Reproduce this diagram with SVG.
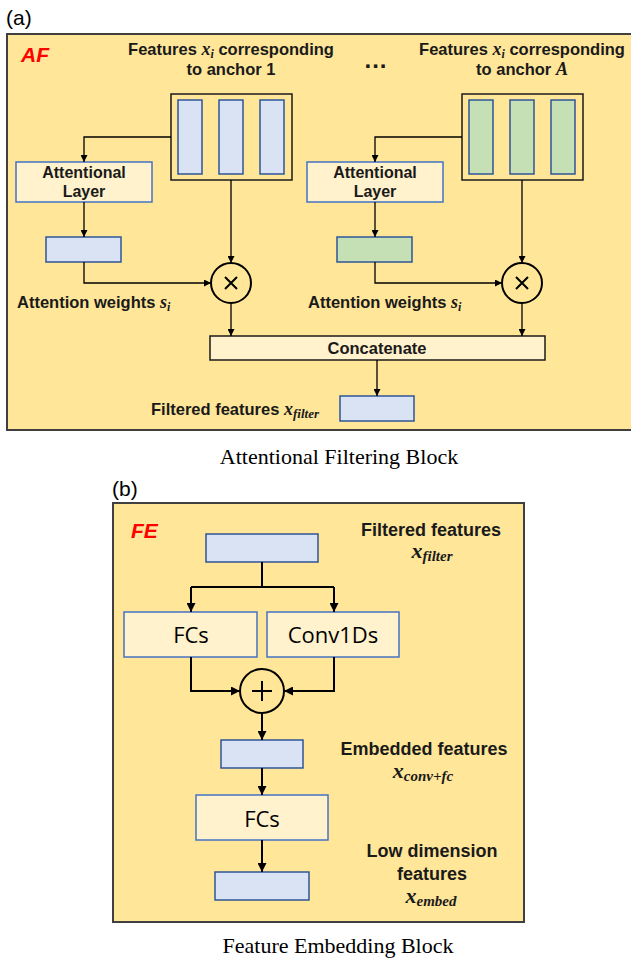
<svg xmlns="http://www.w3.org/2000/svg" width="631" height="959" viewBox="0 0 631 959">
<style>
.panel{fill:#ffe699;stroke:#404040;stroke-width:2}
.blue{fill:#dae3f3;stroke:#2f5597;stroke-width:1.5}
.green{fill:#c5e0b4;stroke:#2f5597;stroke-width:1.5}
.cream{fill:#fff2cc;stroke:#4472c4;stroke-width:1.5}
.frame{fill:none;stroke:#1a1a1a;stroke-width:1.5}
.lbl{font-family:"Liberation Sans",Arial,sans-serif;font-weight:bold;fill:#1a1a1a}
.math{font-family:"Liberation Serif","Times New Roman",serif;font-style:italic}
.red{font-family:"Liberation Sans",Arial,sans-serif;font-weight:bold;font-style:italic;fill:#ff0000}
.cap{font-family:"Liberation Serif","Times New Roman",serif;font-size:22px;fill:#000}
.tag{font-family:"Liberation Sans",Arial,sans-serif;font-size:21px;fill:#000}
.ca{fill:none;stroke:#000;stroke-width:1.3}
.cb{fill:none;stroke:#000;stroke-width:2}
.op{fill:none;stroke:#000;stroke-width:2}
.calib{font-family:"Open Sans","Liberation Sans",sans-serif;font-size:22px;fill:#000}
</style>
<defs>
<marker id="ah" viewBox="0 0 10 10" refX="10" refY="5" markerWidth="7" markerHeight="7" markerUnits="userSpaceOnUse" orient="auto"><path d="M0,0 L10,5 L0,10 z" fill="#000"/></marker>
<marker id="ahb" viewBox="0 0 10 10" refX="10" refY="5" markerWidth="9" markerHeight="9" markerUnits="userSpaceOnUse" orient="auto"><path d="M0,0 L10,5 L0,10 z" fill="#000"/></marker>
</defs>

<!-- Panel (a) -->
<text class="tag" x="6" y="25">(a)</text>
<rect class="panel" x="7" y="34" width="640" height="396"/>
<text class="red" x="21" y="62" font-size="21">AF</text>

<g id="title1">
<text class="lbl" x="231" y="55" font-size="16.5" text-anchor="middle">Features <tspan class="math" font-size="18">x</tspan><tspan class="math" font-size="12" dy="3">i</tspan><tspan dy="-3"> corresponding</tspan></text>
<text class="lbl" x="231" y="75" font-size="16.5" text-anchor="middle">to anchor 1</text>
</g>
<text class="lbl" x="376" y="68" font-size="24" letter-spacing="1" text-anchor="middle">...</text>
<g id="titleA">
<text class="lbl" x="522" y="55" font-size="16.5" text-anchor="middle">Features <tspan class="math" font-size="18">x</tspan><tspan class="math" font-size="12" dy="3">i</tspan><tspan dy="-3"> corresponding</tspan></text>
<text class="lbl" x="522" y="75" font-size="16.5" text-anchor="middle">to anchor <tspan class="math" font-size="18">A</tspan></text>
</g>

<g id="feat1">
<rect class="frame" x="171" y="94" width="121" height="86"/>
<rect class="blue" x="178" y="100" width="24" height="74"/>
<rect class="blue" x="219" y="100" width="24" height="74"/>
<rect class="blue" x="260" y="100" width="24" height="74"/>
</g>
<g id="featA">
<rect class="frame" x="462" y="94" width="121" height="86"/>
<rect class="green" x="469" y="100" width="24" height="74"/>
<rect class="green" x="510" y="100" width="24" height="74"/>
<rect class="green" x="551" y="100" width="24" height="74"/>
</g>

<g id="att1">
<rect class="cream" x="16" y="162" width="136" height="40"/>
<text class="lbl" x="84" y="178" font-size="16" text-anchor="middle">Attentional</text>
<text class="lbl" x="84" y="197" font-size="16" text-anchor="middle">Layer</text>
</g>
<g id="attA">
<rect class="cream" x="307" y="162" width="136" height="40"/>
<text class="lbl" x="375" y="178" font-size="16" text-anchor="middle">Attentional</text>
<text class="lbl" x="375" y="197" font-size="16" text-anchor="middle">Layer</text>
</g>

<g id="w1"><rect class="blue" x="46" y="237" width="75" height="25"/></g>
<g id="wA"><rect class="green" x="337" y="237" width="75" height="25"/></g>

<g id="mul1">
<circle class="op" cx="231" cy="283" r="20"/>
<path d="M225,277 L237,289 M237,277 L225,289" stroke="#000" stroke-width="2"/>
</g>
<g id="mulA">
<circle class="op" cx="522" cy="283" r="20"/>
<path d="M516,277 L528,289 M528,277 L516,289" stroke="#000" stroke-width="2"/>
</g>

<text class="lbl" x="17" y="308" font-size="16.5">Attention weights <tspan class="math" font-size="18">s</tspan><tspan class="math" font-size="12" dy="3">i</tspan></text>
<text class="lbl" x="308" y="308" font-size="16.5">Attention weights <tspan class="math" font-size="18">s</tspan><tspan class="math" font-size="12" dy="3">i</tspan></text>

<g id="concat">
<rect x="210" y="336" width="335" height="24" fill="#fff2cc" stroke="#1a1a1a" stroke-width="1.5"/>
<text class="lbl" x="377" y="354" font-size="16.5" text-anchor="middle">Concatenate</text>
</g>

<g id="filt">
<rect class="blue" x="340" y="396" width="74" height="25"/>
</g>
<text class="lbl" x="151" y="415" font-size="16.5">Filtered features <tspan class="math" font-size="18">x</tspan><tspan class="math" font-size="13" dy="3">filter</tspan></text>

<g id="connectors-a">
<path class="ca" d="M171,137 H84 V162" marker-end="url(#ah)"/>
<path class="ca" d="M84,202 V237" marker-end="url(#ah)"/>
<path class="ca" d="M84,262 V283 H211" marker-end="url(#ah)"/>
<path class="ca" d="M231,180 V263" marker-end="url(#ah)"/>
<path class="ca" d="M231,303 V336" marker-end="url(#ah)"/>
<path class="ca" d="M462,137 H375 V162" marker-end="url(#ah)"/>
<path class="ca" d="M375,202 V237" marker-end="url(#ah)"/>
<path class="ca" d="M375,262 V283 H502" marker-end="url(#ah)"/>
<path class="ca" d="M522,180 V263" marker-end="url(#ah)"/>
<path class="ca" d="M522,303 V336" marker-end="url(#ah)"/>
<path class="ca" d="M377,360 V396" marker-end="url(#ah)"/>
</g>

<text class="cap" x="339" y="464" text-anchor="middle">Attentional Filtering Block</text>

<!-- Panel (b) -->
<text class="tag" x="112" y="496">(b)</text>
<rect class="panel" x="113" y="503" width="411" height="419"/>
<text class="red" x="131" y="538" font-size="21">FE</text>

<text class="lbl" x="431" y="536" font-size="18" text-anchor="middle">Filtered features</text>
<text class="lbl" x="432" y="558" text-anchor="middle"><tspan class="math" font-size="22">x</tspan><tspan class="math" font-size="15" dy="3">filter</tspan></text>

<g id="in"><rect class="blue" x="206" y="534" width="112" height="28"/></g>
<g id="fc1">
<rect class="cream" x="124" y="612" width="133" height="45"/>
<text class="calib" x="191" y="643" text-anchor="middle">FCs</text>
</g>
<g id="conv">
<rect class="cream" x="267" y="612" width="132" height="45"/>
<text class="calib" x="333" y="643" text-anchor="middle">Conv1Ds</text>
</g>
<g id="add">
<circle class="op" cx="262" cy="691" r="22" stroke-width="2.2"/>
<path d="M262,681 V701 M252,691 H272" stroke="#000" stroke-width="2"/>
</g>
<g id="emb"><rect class="blue" x="221" y="740" width="82" height="28"/></g>
<text class="lbl" x="424" y="755" font-size="18" text-anchor="middle">Embedded features</text>
<text class="lbl" x="423" y="778" text-anchor="middle"><tspan class="math" font-size="22">x</tspan><tspan class="math" font-size="15" dy="3">conv+fc</tspan></text>
<g id="fc2">
<rect class="cream" x="196" y="795" width="132" height="45"/>
<text class="calib" x="262" y="827" text-anchor="middle">FCs</text>
</g>
<g id="out"><rect class="blue" x="215" y="872" width="94" height="28"/></g>
<text class="lbl" x="432" y="857" font-size="18" text-anchor="middle">Low dimension</text>
<text class="lbl" x="432" y="880" font-size="18" text-anchor="middle">features</text>
<text class="lbl" x="431" y="903" text-anchor="middle"><tspan class="math" font-size="22">x</tspan><tspan class="math" font-size="15" dy="3">embed</tspan></text>

<g id="connectors-b">
<path class="cb" d="M262,562 V587"/>
<path class="cb" d="M191,587 H334"/>
<path class="cb" d="M191,587 V612" marker-end="url(#ahb)"/>
<path class="cb" d="M334,587 V612" marker-end="url(#ahb)"/>
<path class="cb" d="M191,657 V691 H240" marker-end="url(#ahb)"/>
<path class="cb" d="M334,657 V691 H284" marker-end="url(#ahb)"/>
<path class="cb" d="M262,713 V740" marker-end="url(#ahb)"/>
<path class="cb" d="M262,768 V795" marker-end="url(#ahb)"/>
<path class="cb" d="M262,840 V872" marker-end="url(#ahb)"/>
</g>

<text class="cap" x="338" y="953" text-anchor="middle">Feature Embedding Block</text>
</svg>
